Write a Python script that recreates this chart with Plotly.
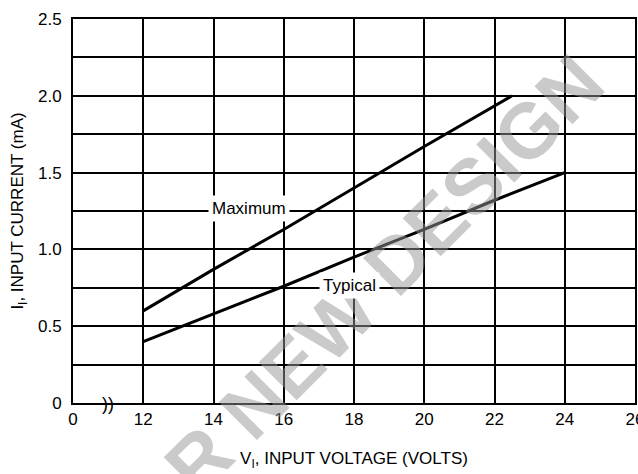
import plotly.graph_objects as go

# Data (x in volts, y in mA)
max_v = [12, 14, 16, 18, 20, 22.5]
max_i = [0.60, 0.87, 1.13, 1.40, 1.67, 2.00]
typ_v = [12, 14, 16, 18, 20, 22, 24]
typ_i = [0.40, 0.58, 0.76, 0.95, 1.13, 1.32, 1.50]

# Broken x axis: "0" is drawn one grid step left of 12
x_tick_pos = [10, 12, 14, 16, 18, 20, 22, 24, 26]
x_tick_text = ["0", "12", "14", "16", "18", "20", "22", "24", "26"]
y_tick_vals = [0, 0.25, 0.5, 0.75, 1.0, 1.25, 1.5, 1.75, 2.0, 2.25, 2.5]
y_tick_text = ["0", "", "0.5", "", "1.0", "", "1.5", "", "2.0", "", "2.5"]

FONT = "Liberation Sans Narrow, Arial Narrow, Liberation Sans, sans-serif"

fig = go.Figure()
fig.add_trace(go.Scatter(x=max_v, y=max_i, mode="lines",
                         line=dict(color="black", width=3), showlegend=False))
fig.add_trace(go.Scatter(x=typ_v, y=typ_i, mode="lines",
                         line=dict(color="black", width=3), showlegend=False))

# Watermark
fig.add_annotation(text="R NEW DESIGN", x=0.555, y=0.335, xref="paper", yref="paper",
                   xanchor="center", yanchor="middle",
                   showarrow=False, textangle=-45,
                   font=dict(family="Liberation Sans, Arial, sans-serif", size=78,
                             color="rgba(150,150,150,0.5)", weight="bold"))

fig.add_annotation(text="Maximum", x=15, y=1.25, showarrow=False, yshift=3,
                   bgcolor="white", borderpad=3,
                   font=dict(family=FONT, size=17, color="black"))
fig.add_annotation(text="Typical", x=17.88, y=0.75, showarrow=False, yshift=2,
                   bgcolor="white", borderpad=3,
                   font=dict(family=FONT, size=17, color="black"))
# axis break mark
fig.add_annotation(text="))", x=11.0, y=0, showarrow=False, yshift=-1, xshift=0,
                   font=dict(family=FONT, size=18, color="black"))

fig.update_xaxes(range=[10, 26], tickvals=x_tick_pos, ticktext=x_tick_text,
                 showgrid=True, gridcolor="black", gridwidth=1.6,
                 showline=True, linecolor="black", linewidth=2, mirror=True,
                 zeroline=False, ticks="", ticklabeloverflow="allow", automargin=False,
                 tickfont=dict(family=FONT, size=17, color="black"),
                 title=dict(text="V<sub>I</sub>, INPUT VOLTAGE (VOLTS)",
                            font=dict(family=FONT, size=17, color="black"),
                            standoff=24))
fig.update_yaxes(range=[0, 2.5], tickvals=y_tick_vals, ticktext=y_tick_text,
                 showgrid=True, gridcolor="black", gridwidth=1.6,
                 showline=True, linecolor="black", linewidth=2, mirror=True,
                 zeroline=False, ticks="", ticklabelstandoff=6, automargin=False,
                 tickfont=dict(family=FONT, size=17, color="black"),
                 title=dict(text="I<sub>I</sub>, INPUT CURRENT (mA)",
                            font=dict(family=FONT, size=17, color="black"),
                            standoff=10))

fig.update_layout(width=638, height=474,
                  margin=dict(l=73, r=3, t=19, b=71),
                  plot_bgcolor="white", paper_bgcolor="white")

fig.write_html("out.html")
